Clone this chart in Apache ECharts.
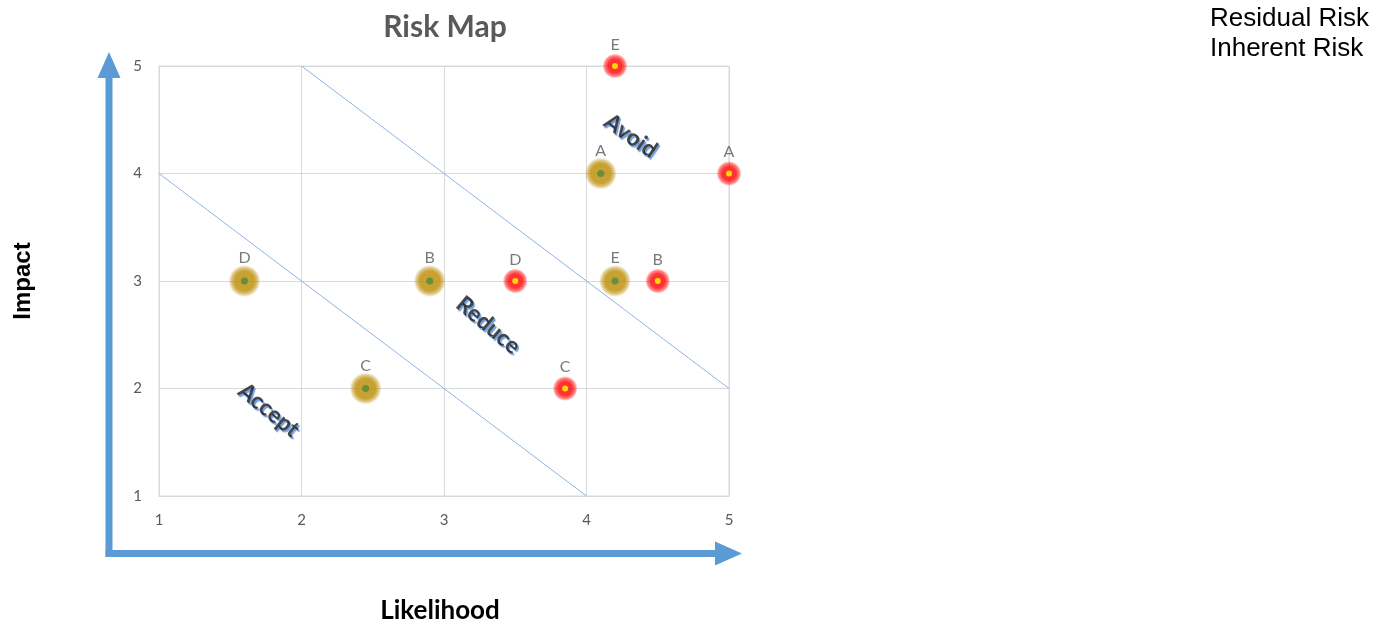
<!DOCTYPE html>
<html>
<head>
<meta charset="utf-8">
<title>Risk Map</title>
<script src="https://cdn.jsdelivr.net/npm/echarts@6/dist/echarts.min.js"></script>
<style>
  html, body { margin: 0; padding: 0; background: #ffffff; }
  #chart { width: 1378px; height: 623px; }
</style>
</head>
<body>
<div id="chart"></div>
<script>
// Risk register: each risk plotted by likelihood (x) and impact (y)
const riskNames = ['A', 'B', 'C', 'D', 'E'];
const residualLikelihood = [4.1, 2.9, 2.45, 1.6, 4.2];
const residualImpact = [4, 3, 2, 3, 3];
const inherentLikelihood = [5, 4.5, 3.85, 3.5, 4.2];
const inherentImpact = [4, 3, 2, 3, 5];

// Zone boundaries (likelihood, impact end points)
const lowerBoundary = [[1, 4], [4, 1]];
const upperBoundary = [[2, 5], [5, 2]];

// Zone captions and where they sit
const zoneNames = ['Avoid', 'Reduce', 'Accept'];
const zoneLikelihood = [4.31, 3.31, 1.77];
const zoneImpact = [4.35, 2.59, 1.8];
const zoneAngles = [-35, -40, -39];

const axisTicks = [1, 2, 3, 4, 5];

const pts = (xs, ys) => xs.map((x, i) => [x, ys[i], riskNames[i]]);
const residualData = pts(residualLikelihood, residualImpact);
const inherentData = pts(inherentLikelihood, inherentImpact);
const zoneData = zoneNames.map((n, i) => ({
  value: [zoneLikelihood[i], zoneImpact[i], n],
  label: { rotate: zoneAngles[i] }
}));

// Soft glowing dot: solid core fading out to transparent
const glow = (rgb, solidUntil) => ({
  type: 'radial', x: 0.5, y: 0.5, r: 0.5,
  colorStops: [
    { offset: 0, color: `rgba(${rgb},1)` },
    { offset: solidUntil, color: `rgba(${rgb},1)` },
    { offset: 0.82, color: `rgba(${rgb},0.6)` },
    { offset: 1, color: `rgba(${rgb},0)` }
  ]
});

const chart = echarts.init(document.getElementById('chart'), null, { renderer: 'canvas' });

const ARROW = '#5b9bd5';

const labelStyle = {
  show: true,
  position: 'top',
  formatter: p => p.data[2],
  color: '#595959',
  fontFamily: 'Lato',
  fontSize: 16
};

chart.setOption({
  backgroundColor: '#ffffff',
  animation: false,
  title: {
    text: 'Risk Map',
    left: 440,
    top: 7,
    textAlign: 'center',
    textStyle: { color: '#595959', fontFamily: 'Lato', fontWeight: 'bold', fontSize: 30 }
  },
  legend: {
    data: ['Residual Risk', 'Inherent Risk'],
    orient: 'vertical',
    left: 1200,
    top: 1,
    icon: 'none',
    itemWidth: 0,
    itemHeight: 0,
    itemGap: 4,
    selectedMode: false,
    textStyle: { color: '#000000', fontFamily: 'Liberation Sans', fontSize: 26, lineHeight: 26 }
  },
  grid: {
    show: true, borderColor: '#d9d9d9', borderWidth: 1,
    left: 159, right: 649, top: 66, bottom: 127,
    containLabel: false,
    outerBoundsMode: 'none'
  },
  xAxis: {
    type: 'value',
    min: 1, max: 5, interval: 1,
    name: 'Likelihood',
    nameLocation: 'middle',
    nameGap: 102,
    nameTextStyle: { color: '#000000', fontFamily: 'Lato', fontWeight: 'bold', fontSize: 26,
                     padding: [0, 8, 0, 0] },
    axisLine: { show: true, lineStyle: { color: '#d9d9d9' } },
    axisTick: { show: false },
    axisLabel: { color: '#595959', fontFamily: 'Lato', fontSize: 15, margin: 17,
                 formatter: v => axisTicks.includes(v) ? String(v) : '' },
    splitLine: { show: true, lineStyle: { color: '#d9d9d9' } }
  },
  yAxis: {
    type: 'value',
    min: 1, max: 5, interval: 1,
    name: 'Impact',
    nameLocation: 'middle',
    nameGap: 124,
    nameTextStyle: { color: '#000000', fontFamily: 'Liberation Sans', fontWeight: 'bold', fontSize: 24 },
    axisLine: { show: true, lineStyle: { color: '#d9d9d9' } },
    axisTick: { show: false },
    axisLabel: { color: '#595959', fontFamily: 'Lato', fontSize: 15, margin: 17,
                 formatter: v => axisTicks.includes(v) ? String(v) : '' },
    splitLine: { show: true, lineStyle: { color: '#d9d9d9' } }
  },
  series: [
    {
      type: 'line', name: 'lower', data: lowerBoundary, symbol: 'none', silent: true,
      lineStyle: { color: '#8fb4df', width: 1 }
    },
    {
      type: 'line', name: 'upper', data: upperBoundary, symbol: 'none', silent: true,
      lineStyle: { color: '#8fb4df', width: 1 }
    },
    {
      type: 'scatter', name: 'zones', data: zoneData, symbolSize: 0, silent: true,
      label: {
        show: true, position: 'inside',
        formatter: p => p.data.value[2],
        color: '#1a1a1a', fontFamily: 'Lato', fontWeight: 'bold', fontSize: 23,
        textShadowColor: '#4f86d4', textShadowBlur: 1,
        textShadowOffsetX: 1.5, textShadowOffsetY: 2
      }
    },
    {
      type: 'scatter', name: 'Residual Risk', data: residualData, clip: false,
      symbolSize: 32,
      itemStyle: { color: glow('187,138,0', 0.62) },
      label: Object.assign({ distance: -1 }, labelStyle),
      z: 3
    },
    {
      type: 'scatter', name: 'Residual core', data: residualData, clip: false,
      symbolSize: 7, silent: true,
      itemStyle: { color: '#4f8a3c' },
      z: 4
    },
    {
      type: 'scatter', name: 'Inherent Risk', data: inherentData, clip: false,
      symbolSize: 25,
      itemStyle: { color: glow('255,0,0', 0.55) },
      label: Object.assign({ distance: 1 }, labelStyle),
      z: 3
    },
    {
      type: 'scatter', name: 'Inherent core', data: inherentData, clip: false,
      symbolSize: 6, silent: true,
      itemStyle: { color: '#ffff00' },
      z: 4
    }
  ],
  graphic: [
    // Impact arrow (vertical) and Likelihood arrow (horizontal)
    { type: 'rect', shape: { x: 105.5, y: 76, width: 7, height: 481 }, style: { fill: ARROW }, silent: true },
    { type: 'polygon', shape: { points: [[109, 52], [97.5, 78], [120.5, 78]] }, style: { fill: ARROW }, silent: true },
    { type: 'rect', shape: { x: 105.5, y: 550, width: 611, height: 7 }, style: { fill: ARROW }, silent: true },
    { type: 'polygon', shape: { points: [[742, 553.5], [715, 541.5], [715, 565.5]] }, style: { fill: ARROW }, silent: true }
  ]
});
</script>
</body>
</html>
